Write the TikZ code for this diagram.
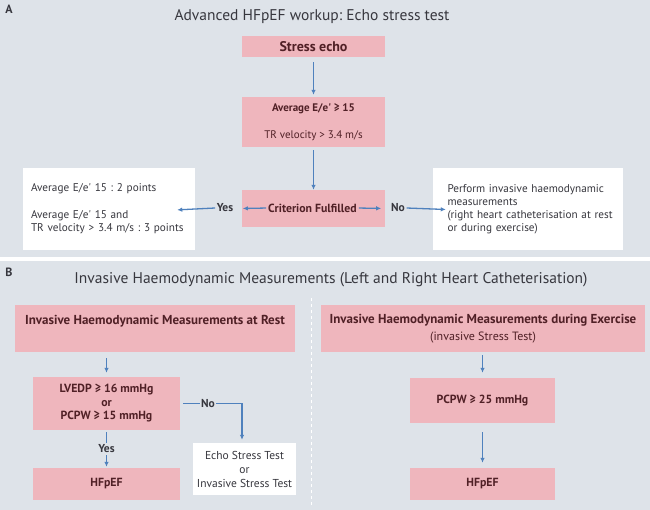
\documentclass[tikz,border=0pt]{standalone}
\usepackage{fontspec}
\setmainfont{PT Sans}
\usetikzlibrary{arrows.meta}
\definecolor{bgcol}{RGB}{222,227,233}
\definecolor{boxpink}{RGB}{239,182,189}
\definecolor{boxtext}{RGB}{80,32,38}
\definecolor{greytext}{RGB}{55,55,62}
\definecolor{arrowblue}{RGB}{79,129,189}
\frenchspacing
\begin{document}
\begin{tikzpicture}[x=1pt,y=-1pt,
    pink box/.style={rectangle,fill=boxpink,text=boxtext,align=center,inner sep=0pt,
                     font=\bfseries\fontsize{11.8}{13.5}\selectfont},
    white box/.style={rectangle,fill=white,text=greytext,inner sep=0pt,
                      font=\fontsize{11.2}{13}\selectfont},
    flow/.style={draw=arrowblue,line width=1.3pt,-{Latex[length=5pt,width=4.5pt]}},
    answer/.style={text=greytext,font=\bfseries\fontsize{11.5}{12}\selectfont,fill=bgcol,inner sep=1.5pt},
    panel title/.style={text=greytext,font=\fontsize{15.5}{17}\selectfont},
    panel letter/.style={text=greytext,font=\bfseries\fontsize{12}{14}\selectfont}
  ]
  \useasboundingbox[fill=bgcol] (0,0) rectangle (650,510);
  \fill[white] (0,257.5) rectangle (650,261.5);
  \draw[white,line width=1pt,dashed] (311,298) -- (311,506);

  % panel A
  \node[panel letter] (la) at (9,9) {A};
  \node[panel title] (ta) at (312,17) {Advanced HFpEF workup: Echo stress test};
  \node[pink box,minimum width=143pt,minimum height=21pt,font=\bfseries\fontsize{14}{15}\selectfont] (echo) at (313.5,46.5) {Stress echo};
  \node[pink box,minimum width=143pt,minimum height=50pt,font=\fontsize{11}{12}\selectfont] (avg) at (313.5,122)
    {\textbf{Average E/e\textquotesingle{} ≥ 15}\\[15pt]TR velocity > 3.4 m/s};
  \node[pink box,minimum width=143pt,minimum height=37pt] (crit) at (313.5,208.5) {};
  \node[pink box,fill=none] (crittxt) at (312.5,208) {Criterion Fulfilled};
  \node[answer] (yes) at (225,208) {Yes};
  \node[answer] (no) at (398,208) {No};
  \node[white box,minimum width=172pt,minimum height=82pt,text width=156pt,inner xsep=8pt,align=left] (points) at (109,209)
    {Average E/e\textquotesingle{} 15 : 2 points\\[14pt]Average E/e\textquotesingle{} 15 and\\TR velocity > 3.4 m/s : 3 points};
  \node[white box,minimum width=190pt,minimum height=82pt,text width=175pt,inner xsep=7.5pt,align=left] (perform) at (528,209)
    {\hspace*{7pt}Perform invasive haemodynamic\\\hspace*{7pt}measurements\\\hspace*{7pt}(right heart catheterisation at rest\\\hspace*{7pt}or during exercise)};

  \path (echo) edge[flow,shorten <=5pt,shorten >=2pt] (avg);
  \path (avg) edge[flow,shorten <=3pt] (crit);
  \path (crittxt.west) edge[flow,shorten <=2pt,shorten >=1pt] (crit.west);
  \path (crittxt.east) edge[flow,shorten <=2pt,shorten >=4pt] (crit.east);
  \path (yes.west) edge[flow,shorten >=-18pt] (points.east);
  \path (no.east) edge[flow,shorten >=-13pt] (perform.west);

  % panel B
  \node[panel letter] (lb) at (9,272) {B};
  \node[panel title] (tb) at (331,280) {Invasive Haemodynamic Measurements (Left and Right Heart Catheterisation)};
  \node[pink box,minimum width=280pt,minimum height=47pt,font=\bfseries\fontsize{13}{17}\selectfont] (rest) at (155,328.5)
    {Invasive Haemodynamic Measurements at Rest\\\mbox{}};
  \node[pink box,minimum width=324pt,minimum height=47pt,font=\bfseries\fontsize{13}{17}\selectfont] (exer) at (483,328.5)
    {Invasive Haemodynamic Measurements during Exercise\\{\mdseries\fontsize{12}{12}\selectfont(invasive Stress Test)}};
  \node[pink box,minimum width=147pt,minimum height=53pt] (lvedp) at (106.5,403.5)
    {LVEDP ≥ 16 mmHg\\or\\PCPW ≥ 15 mmHg};
  \node[pink box,minimum width=147pt,minimum height=32pt] (hfrest) at (106.5,484) {HFpEF};
  \node[white box,minimum width=103pt,minimum height=52pt,align=center,font=\fontsize{11.5}{14}\selectfont] (stresstest) at (244.5,469)
    {Echo Stress Test\\or\\Invasive Stress Test};
  \node[pink box,minimum width=145pt,minimum height=45pt] (pcpw) at (482.5,400.5) {PCPW ≥ 25 mmHg};
  \node[pink box,minimum width=145pt,minimum height=32pt] (hfexer) at (482.5,484) {HFpEF};

  \path (lvedp.north |- rest.south) edge[flow,shorten <=6pt,shorten >=4pt] (lvedp.north);
  \draw[flow,shorten <=2pt,shorten >=1pt] (lvedp.south) -- node[answer] {Yes} (hfrest.north);
  \draw[flow,shorten <=3pt,shorten >=3pt] (lvedp.east) -- node[answer,pos=0.45] {No} ([xshift=-2.5pt]lvedp.east -| stresstest.north) -- ([xshift=-2.5pt]stresstest.north);
  \path (exer.south -| pcpw.north) edge[flow,shorten <=3pt,shorten >=5pt] (pcpw.north);
  \path (pcpw) edge[flow,shorten <=9pt,shorten >=5pt] (hfexer);
\end{tikzpicture}
\end{document}
